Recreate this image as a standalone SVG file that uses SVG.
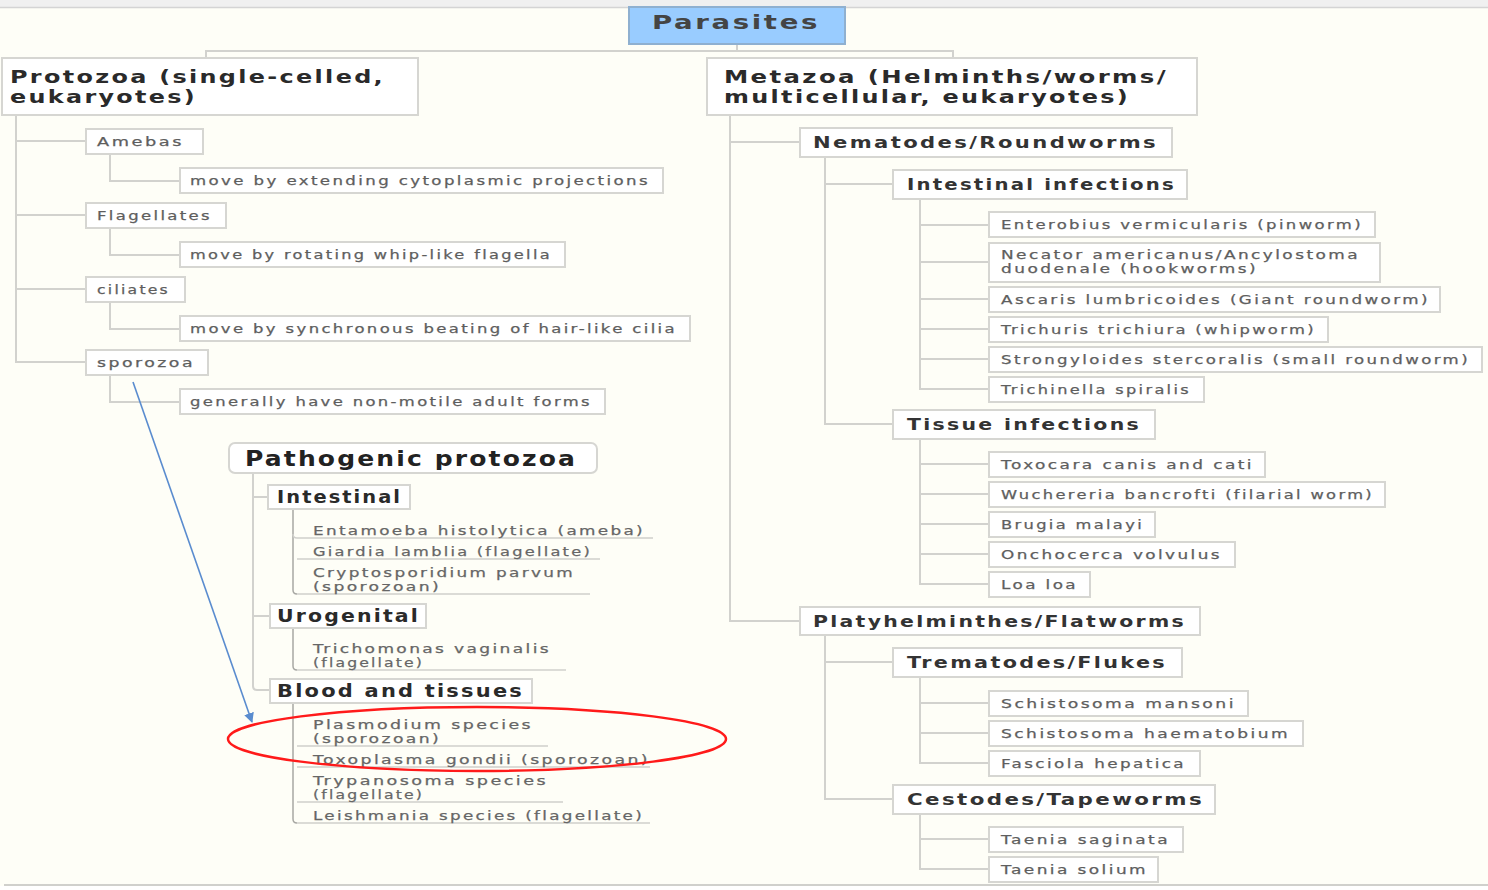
<svg xmlns="http://www.w3.org/2000/svg" width="1488" height="890" viewBox="0 0 1488 890">
<defs>
<style>
.bx{fill:#ffffff;stroke:#d6d6d2;stroke-width:2}
.ln{fill:none;stroke:#d2d2ce;stroke-width:2}
.ln2{fill:none;stroke:#a8a8a4;stroke-width:1.5}
.ul{fill:none;stroke:#d0d0cc;stroke-width:1.5}
text{letter-spacing:1.8px}
.t{font-family:"DejaVu Sans",Verdana,sans-serif;font-size:12.5px;fill:#5e5e5e;stroke:#5e5e5e;stroke-width:0.25}
.tp{font-family:"DejaVu Sans",Verdana,sans-serif;font-size:13px;fill:#666666;stroke:#666666;stroke-width:0.25}
.h1{font-family:"DejaVu Sans",Verdana,sans-serif;font-size:18.5px;font-weight:bold;fill:#2a2a2a}
.h2{font-family:"DejaVu Sans",Verdana,sans-serif;font-size:16px;font-weight:bold;fill:#333333}
.h3{font-family:"DejaVu Sans",Verdana,sans-serif;font-size:17px;font-weight:bold;fill:#2a2a2a}
</style>
<marker id="ah" markerWidth="12" markerHeight="12" refX="9" refY="5" orient="auto" markerUnits="userSpaceOnUse">
<path d="M0,0 L10,5 L0,10 Z" fill="#5a8ccf"/>
</marker>
</defs>
<rect width="1488" height="890" fill="#fefef7"/>
<rect x="0" y="0" width="1488" height="7" fill="#f0f0f0"/>
<line x1="0" y1="7.5" x2="1488" y2="7.5" stroke="#d4d4d4" stroke-width="1.5"/>
<rect x="0" y="886" width="1488" height="4" fill="#ffffff"/>
<line x1="4" y1="885" x2="1488" y2="885" stroke="#d0d0cc" stroke-width="2"/>

<g id="connectors">
<path class="ln" d="M737 44V51M206 58V51H953V58"/>
<path class="ln" d="M16 115V362H86M16 141H86M16 215H86M16 289H86"/>
<path class="ln" d="M110 154V181H180M110 228V255H180M110 302V329H180M110 375V402H180"/>
<path class="ln" d="M253 473V686Q253 690 257 690H270M253 497H268M253 616H270"/>
<path class="ln2" d="M293 509V590Q293 594 297 594"/>
<path class="ul" d="M293 534Q293 538 297 538H653M297 559H600M297 594H590"/>
<path class="ln2" d="M293 628V666Q293 670 297 670"/>
<path class="ul" d="M297 670H566"/>
<path class="ln2" d="M293 703V819Q293 823 297 823"/>
<path class="ul" d="M297 746H548M297 767H650M297 802H563M297 823H650"/>
<path class="ln" d="M730 115V621H800M730 142H800"/>
<path class="ln" d="M825 157V424H893M825 184H893"/>
<path class="ln" d="M920 199V389H989M920 225H989M920 262H989M920 299H989M920 329H989M920 359H989"/>
<path class="ln" d="M920 439V584H989M920 464H989M920 494H989M920 524H989M920 554H989"/>
<path class="ln" d="M825 635V799H893M825 662H893"/>
<path class="ln" d="M920 677V763H989M920 703H989M920 733H989"/>
<path class="ln" d="M920 814V869H989M920 839H989"/>
<line x1="133" y1="382" x2="252" y2="722" stroke="#5a8ccf" stroke-width="1.6" marker-end="url(#ah)"/>
</g>

<g id="parasites">
<rect x="629" y="7" width="216" height="37" fill="#99ccff" stroke="#8fb0d0" stroke-width="2"/>
<text x="652" y="29" font-family="DejaVu Sans,Verdana,sans-serif" font-size="19" font-weight="bold" fill="#444" textLength="168" lengthAdjust="spacingAndGlyphs">Parasites</text>
</g>

<g id="protozoa">
<rect class="bx" x="2" y="58" width="416" height="57"/>
<text class="h1" x="10" y="83" textLength="375" lengthAdjust="spacingAndGlyphs">Protozoa (single-celled,</text>
<text class="h1" x="10" y="103" textLength="187" lengthAdjust="spacingAndGlyphs">eukaryotes)</text>
</g>
<g id="amebas"><rect class="bx" x="86" y="129" width="117" height="25"/><text class="t" x="97" y="146" textLength="87" lengthAdjust="spacingAndGlyphs">Amebas</text></g>
<g id="amebas-d"><rect class="bx" x="180" y="168" width="483" height="25"/><text class="t" x="190" y="185" textLength="460" lengthAdjust="spacingAndGlyphs">move by extending cytoplasmic projections</text></g>
<g id="flagellates"><rect class="bx" x="86" y="203" width="140" height="25"/><text class="t" x="97" y="220" textLength="115" lengthAdjust="spacingAndGlyphs">Flagellates</text></g>
<g id="flagellates-d"><rect class="bx" x="180" y="242" width="385" height="25"/><text class="t" x="190" y="259" textLength="362" lengthAdjust="spacingAndGlyphs">move by rotating whip-like flagella</text></g>
<g id="ciliates"><rect class="bx" x="86" y="277" width="99" height="25"/><text class="t" x="97" y="294" textLength="73" lengthAdjust="spacingAndGlyphs">ciliates</text></g>
<g id="ciliates-d"><rect class="bx" x="180" y="316" width="510" height="25"/><text class="t" x="190" y="333" textLength="487" lengthAdjust="spacingAndGlyphs">move by synchronous beating of hair-like cilia</text></g>
<g id="sporozoa"><rect class="bx" x="86" y="350" width="122" height="25"/><text class="t" x="97" y="367" textLength="98" lengthAdjust="spacingAndGlyphs">sporozoa</text></g>
<g id="sporozoa-d"><rect class="bx" x="180" y="389" width="425" height="25"/><text class="t" x="190" y="406" textLength="402" lengthAdjust="spacingAndGlyphs">generally have non-motile adult forms</text></g>

<g id="pathogenic">
<rect class="bx" x="229" y="443" width="368" height="30" rx="6"/>
<text x="245" y="466" font-family="DejaVu Sans,Verdana,sans-serif" font-size="21" font-weight="bold" fill="#222" textLength="332" lengthAdjust="spacingAndGlyphs">Pathogenic protozoa</text>
</g>
<g id="intestinal"><rect class="bx" x="268" y="485" width="142" height="24"/><text class="h3" x="277" y="503" textLength="125" lengthAdjust="spacingAndGlyphs">Intestinal</text></g>
<g id="entamoeba"><text class="tp" x="313" y="535" textLength="332" lengthAdjust="spacingAndGlyphs">Entamoeba histolytica (ameba)</text></g>
<g id="giardia"><text class="tp" x="313" y="556" textLength="279" lengthAdjust="spacingAndGlyphs">Giardia lamblia (flagellate)</text></g>
<g id="crypto"><text class="tp" x="313" y="577" textLength="262" lengthAdjust="spacingAndGlyphs">Cryptosporidium parvum</text><text class="tp" x="313" y="591" textLength="128" lengthAdjust="spacingAndGlyphs">(sporozoan)</text></g>
<g id="urogenital"><rect class="bx" x="270" y="604" width="156" height="24"/><text class="h3" x="277" y="622" textLength="143" lengthAdjust="spacingAndGlyphs">Urogenital</text></g>
<g id="tricho"><text class="tp" x="313" y="653" textLength="238" lengthAdjust="spacingAndGlyphs">Trichomonas vaginalis</text><text class="tp" x="313" y="667" textLength="111" lengthAdjust="spacingAndGlyphs">(flagellate)</text></g>
<g id="blood"><rect class="bx" x="270" y="679" width="262" height="24"/><text class="h3" x="277" y="697" textLength="247" lengthAdjust="spacingAndGlyphs">Blood and tissues</text></g>
<g id="plasmodium"><text class="tp" x="313" y="729" textLength="220" lengthAdjust="spacingAndGlyphs">Plasmodium species</text><text class="tp" x="313" y="743" textLength="128" lengthAdjust="spacingAndGlyphs">(sporozoan)</text></g>
<g id="toxoplasma"><text class="tp" x="313" y="764" textLength="337" lengthAdjust="spacingAndGlyphs">Toxoplasma gondii (sporozoan)</text></g>
<g id="trypanosoma"><text class="tp" x="313" y="785" textLength="235" lengthAdjust="spacingAndGlyphs">Trypanosoma species</text><text class="tp" x="313" y="799" textLength="111" lengthAdjust="spacingAndGlyphs">(flagellate)</text></g>
<g id="leishmania"><text class="tp" x="313" y="820" textLength="331" lengthAdjust="spacingAndGlyphs">Leishmania species (flagellate)</text></g>
<g id="highlight"><ellipse cx="477" cy="739" rx="249" ry="32" fill="none" stroke="#ff1a1a" stroke-width="2.5"/></g>

<g id="metazoa">
<rect class="bx" x="707" y="58" width="490" height="57"/>
<text class="h1" x="724" y="83" textLength="444" lengthAdjust="spacingAndGlyphs">Metazoa (Helminths/worms/</text>
<text class="h1" x="724" y="103" textLength="406" lengthAdjust="spacingAndGlyphs">multicellular, eukaryotes)</text>
</g>
<g id="nematodes"><rect class="bx" x="800" y="128" width="372" height="29"/><text class="h2" x="813" y="148" textLength="345" lengthAdjust="spacingAndGlyphs">Nematodes/Roundworms</text></g>
<g id="int-inf"><rect class="bx" x="893" y="170" width="294" height="29"/><text class="h2" x="907" y="190" textLength="269" lengthAdjust="spacingAndGlyphs">Intestinal infections</text></g>
<g id="enterobius"><rect class="bx" x="989" y="212" width="386" height="25"/><text class="t" x="1001" y="229" textLength="362" lengthAdjust="spacingAndGlyphs">Enterobius vermicularis (pinworm)</text></g>
<g id="necator"><rect class="bx" x="989" y="243" width="391" height="39"/><text class="t" x="1001" y="259" textLength="359" lengthAdjust="spacingAndGlyphs">Necator americanus/Ancylostoma</text><text class="t" x="1001" y="273" textLength="257" lengthAdjust="spacingAndGlyphs">duodenale (hookworms)</text></g>
<g id="ascaris"><rect class="bx" x="989" y="287" width="451" height="25"/><text class="t" x="1001" y="304" textLength="429" lengthAdjust="spacingAndGlyphs">Ascaris lumbricoides (Giant roundworm)</text></g>
<g id="trichuris"><rect class="bx" x="989" y="317" width="339" height="25"/><text class="t" x="1001" y="334" textLength="315" lengthAdjust="spacingAndGlyphs">Trichuris trichiura (whipworm)</text></g>
<g id="strongyloides"><rect class="bx" x="989" y="347" width="493" height="25"/><text class="t" x="1001" y="364" textLength="469" lengthAdjust="spacingAndGlyphs">Strongyloides stercoralis (small roundworm)</text></g>
<g id="trichinella"><rect class="bx" x="989" y="377" width="215" height="25"/><text class="t" x="1001" y="394" textLength="190" lengthAdjust="spacingAndGlyphs">Trichinella spiralis</text></g>
<g id="tissue-inf"><rect class="bx" x="893" y="410" width="262" height="29"/><text class="h2" x="907" y="430" textLength="234" lengthAdjust="spacingAndGlyphs">Tissue infections</text></g>
<g id="toxocara"><rect class="bx" x="989" y="452" width="276" height="25"/><text class="t" x="1001" y="469" textLength="253" lengthAdjust="spacingAndGlyphs">Toxocara canis and cati</text></g>
<g id="wuchereria"><rect class="bx" x="989" y="482" width="396" height="25"/><text class="t" x="1001" y="499" textLength="373" lengthAdjust="spacingAndGlyphs">Wuchereria bancrofti (filarial worm)</text></g>
<g id="brugia"><rect class="bx" x="989" y="512" width="166" height="25"/><text class="t" x="1001" y="529" textLength="143" lengthAdjust="spacingAndGlyphs">Brugia malayi</text></g>
<g id="onchocerca"><rect class="bx" x="989" y="542" width="246" height="25"/><text class="t" x="1001" y="559" textLength="221" lengthAdjust="spacingAndGlyphs">Onchocerca volvulus</text></g>
<g id="loaloa"><rect class="bx" x="989" y="572" width="101" height="25"/><text class="t" x="1001" y="589" textLength="77" lengthAdjust="spacingAndGlyphs">Loa loa</text></g>
<g id="platy"><rect class="bx" x="800" y="607" width="400" height="28"/><text class="h2" x="813" y="627" textLength="373" lengthAdjust="spacingAndGlyphs">Platyhelminthes/Flatworms</text></g>
<g id="trematodes"><rect class="bx" x="893" y="648" width="289" height="29"/><text class="h2" x="907" y="668" textLength="260" lengthAdjust="spacingAndGlyphs">Trematodes/Flukes</text></g>
<g id="mansoni"><rect class="bx" x="989" y="691" width="259" height="25"/><text class="t" x="1001" y="708" textLength="235" lengthAdjust="spacingAndGlyphs">Schistosoma mansoni</text></g>
<g id="haematobium"><rect class="bx" x="989" y="721" width="314" height="25"/><text class="t" x="1001" y="738" textLength="289" lengthAdjust="spacingAndGlyphs">Schistosoma haematobium</text></g>
<g id="fasciola"><rect class="bx" x="989" y="751" width="211" height="25"/><text class="t" x="1001" y="768" textLength="185" lengthAdjust="spacingAndGlyphs">Fasciola hepatica</text></g>
<g id="cestodes"><rect class="bx" x="893" y="785" width="322" height="29"/><text class="h2" x="907" y="805" textLength="297" lengthAdjust="spacingAndGlyphs">Cestodes/Tapeworms</text></g>
<g id="saginata"><rect class="bx" x="989" y="827" width="194" height="25"/><text class="t" x="1001" y="844" textLength="169" lengthAdjust="spacingAndGlyphs">Taenia saginata</text></g>
<g id="solium"><rect class="bx" x="989" y="857" width="169" height="25"/><text class="t" x="1001" y="874" textLength="147" lengthAdjust="spacingAndGlyphs">Taenia solium</text></g>
</svg>
